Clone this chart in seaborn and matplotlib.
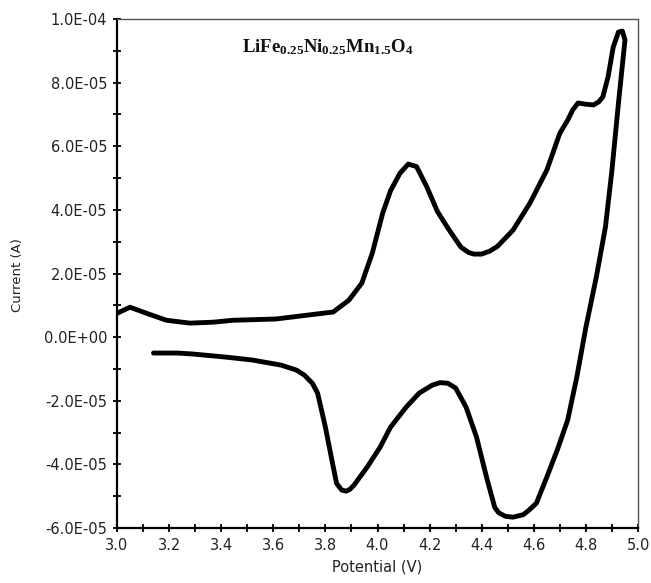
import numpy as np
import pandas as pd
import matplotlib
matplotlib.use("Agg")
import matplotlib.pyplot as plt
from matplotlib.ticker import MultipleLocator, FuncFormatter
import seaborn as sns

# cyclic voltammogram, current values in units of 1E-05 A
FWD_V = [3.00, 3.05, 3.12, 3.19, 3.28, 3.37, 3.445, 3.61, 3.70, 3.76, 3.83, 3.89,
         3.94, 3.98, 4.02, 4.05, 4.086, 4.118, 4.15, 4.189, 4.23, 4.27, 4.32, 4.35,
         4.37, 4.40, 4.43, 4.46, 4.52, 4.585, 4.65, 4.70, 4.73, 4.75, 4.77, 4.80,
         4.83, 4.85, 4.865, 4.885, 4.905, 4.925, 4.94, 4.95]
FWD_I = [0.75, 0.94, 0.73, 0.53, 0.44, 0.47, 0.53, 0.57, 0.66, 0.72, 0.79, 1.16,
         1.70, 2.64, 3.90, 4.60, 5.15, 5.44, 5.36, 4.73, 3.95, 3.43, 2.83, 2.66,
         2.61, 2.61, 2.70, 2.85, 3.36, 4.21, 5.25, 6.41, 6.82, 7.15, 7.36, 7.32,
         7.30, 7.40, 7.55, 8.18, 9.12, 9.59, 9.62, 9.34]

REV_V = [4.95, 4.925, 4.90, 4.875, 4.84, 4.80, 4.765, 4.73, 4.69, 4.65, 4.61, 4.58,
         4.56, 4.52, 4.49, 4.465, 4.45, 4.42, 4.38, 4.34, 4.30, 4.27, 4.24, 4.21,
         4.16, 4.11, 4.05, 4.01, 3.96, 3.91, 3.895, 3.88, 3.863, 3.843, 3.825, 3.80,
         3.77, 3.75, 3.72, 3.69, 3.63, 3.52, 3.42, 3.29, 3.23, 3.14]
REV_I = [9.34, 7.36, 5.25, 3.46, 1.89, 0.31, -1.26, -2.61, -3.55, -4.40, -5.22, -5.45,
         -5.58, -5.66, -5.63, -5.52, -5.35, -4.45, -3.14, -2.20, -1.60, -1.45, -1.43, -1.51,
         -1.76, -2.20, -2.83, -3.46, -4.09, -4.65, -4.78, -4.84, -4.81, -4.60, -3.87, -2.83,
         -1.76, -1.45, -1.20, -1.04, -0.88, -0.72, -0.63, -0.53, -0.50, -0.50]

UNIT = 1e-5
TITLE = r"$\mathbf{LiFe_{0.25}Ni_{0.25}Mn_{1.5}O_4}$"

sns.set_style("white")
plt.rcParams["font.family"] = ["DejaVu Sans"]
plt.rcParams["mathtext.fontset"] = "custom"
plt.rcParams["mathtext.bf"] = "Liberation Serif:bold"
plt.rcParams["mathtext.rm"] = "Liberation Serif"

fig = plt.figure(figsize=(6.51, 5.83), dpi=100)
ax = fig.add_axes([117 / 651, 1 - 528 / 583, (638 - 117) / 651, (528 - 19) / 583])

df = pd.DataFrame({
    "v": FWD_V + REV_V,
    "i": [c * UNIT for c in FWD_I + REV_I],
})
sns.lineplot(data=df, x="v", y="i", sort=False, estimator=None,
             color="black", linewidth=3.5, ax=ax)

ax.set_xlim(3.0, 5.0)
ax.set_ylim(-6e-5, 1e-4)
ax.xaxis.set_major_locator(MultipleLocator(0.2))
ax.xaxis.set_minor_locator(MultipleLocator(0.1))
ax.yaxis.set_major_locator(MultipleLocator(2e-5))
ax.yaxis.set_minor_locator(MultipleLocator(1e-5))
ax.xaxis.set_major_formatter(FuncFormatter(lambda v, p: f"{v:.1f}"))
ax.yaxis.set_major_formatter(FuncFormatter(lambda v, p: f"{v:.1E}"))
ax.tick_params(which="both", direction="inout", length=6, width=1.3,
               color="black", labelsize=10.5, labelcolor="#222222", pad=4)
ax.tick_params(axis="y", which="both", right=False, left=True)
ax.tick_params(axis="x", which="both", top=False, bottom=True)

for side in ["left", "bottom"]:
    ax.spines[side].set_color("black")
    ax.spines[side].set_linewidth(1.6)
for side in ["top", "right"]:
    ax.spines[side].set_color("#555555")
    ax.spines[side].set_linewidth(1.0)

ax.set_xlabel("Potential (V)", fontsize=10.5, color="#222222", labelpad=5)
ax.set_ylabel("")
fig.text(18 / 651, 1 - 275 / 583, "Current (A)", rotation=90, fontsize=9.5,
         color="#222222", ha="center", va="center")

ax.text(3.81, 9.1e-5, TITLE, fontsize=13.5, ha="center", va="center", color="#111111")

fig.savefig("out.png", dpi=100)
